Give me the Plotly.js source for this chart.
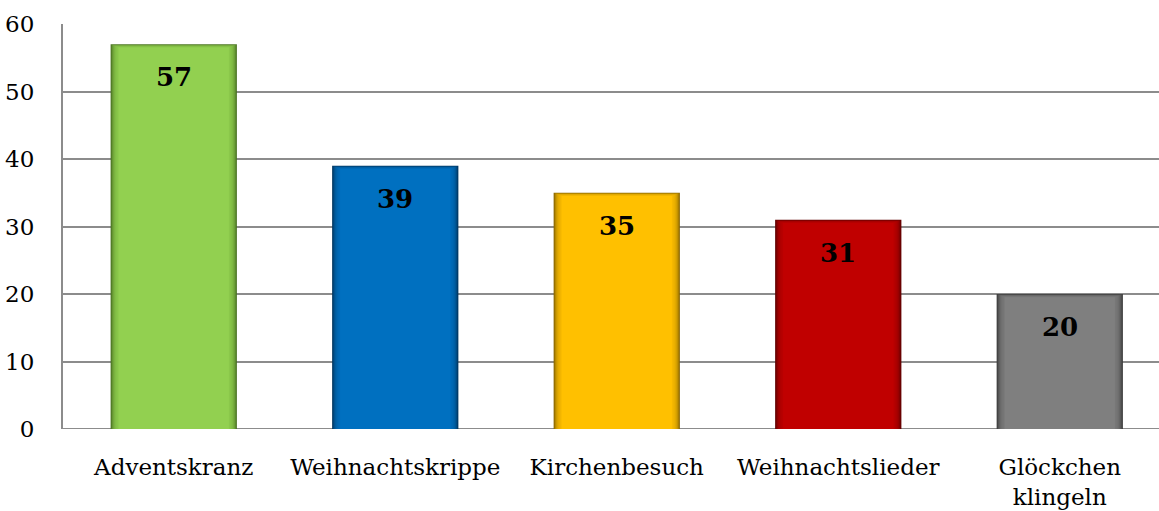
<!DOCTYPE html>
<html><head><meta charset="utf-8">
<script src="https://cdn.plot.ly/plotly-3.0.1.min.js"></script>
<style>html,body{margin:0;padding:0;background:#fff;}#chart{width:1159px;height:511px;}</style>
</head><body><div id="chart"></div>
<script>
const categories = ["Adventskranz", "Weihnachtskrippe", "Kirchenbesuch", "Weihnachtslieder", "Glöckchen<br>klingeln"];
const values = [57, 39, 35, 31, 20];
const colors = ["#92D050", "#0070C0", "#FFC000", "#C00000", "#7F7F7F"];
const edgeColors = ["#4A7322", "#003560", "#8A6700", "#600000", "#3C3C3C"];
const yTicks = [0, 10, 20, 30, 40, 50, 60];

const idx = categories.map((c, i) => i);
const font = "DejaVu Serif, Liberation Serif, serif";

// soft inner-shadow effect: base dark bar then progressively narrower translucent layers
const layers = [{w: 0.57, dy: 0, op: 1, base: true}];
for (let k = 1; k <= 8; k++) {
  layers.push({w: 0.57 - k * 0.009, dy: k * 0.06, op: k === 8 ? 1 : 0.3});
}
const traces = layers.map(L => ({
  type: "bar", x: idx, y: values.map(v => v - L.dy), width: L.w,
  marker: {color: L.base ? edgeColors : colors, opacity: L.op, line: {width: 0}},
  hoverinfo: "skip"
}));

const annotations = values.map((v, i) => ({
  x: i, y: v, xref: "x", yref: "y", text: "<b>" + v + "</b>", showarrow: false,
  yshift: -33, font: {family: font, size: 26, color: "#000"}
}));

const layout = {
  width: 1159, height: 511,
  margin: {l: 63, r: 0, t: 24, b: 82},
  paper_bgcolor: "#fff", plot_bgcolor: "#fff",
  barmode: "overlay", showlegend: false,
  xaxis: {range: [-0.5, 4.448], tickvals: idx, ticktext: categories,
          showgrid: false, zeroline: false, showline: false, ticks: "",
          ticklabelstandoff: 22,
          tickfont: {family: font, size: 23, color: "#000"}, fixedrange: true},
  yaxis: {range: [0, 60], tickvals: yTicks, showgrid: true, gridcolor: "#8C8C8C", gridwidth: 2,
          zeroline: false, showline: true, linecolor: "#8C8C8C", linewidth: 2, ticks: "",
          ticklabelstandoff: 22,
          tickfont: {family: font, size: 23, color: "#000"}, fixedrange: true},
  annotations: annotations
};
layout.shapes = [{type: "line", xref: "paper", yref: "y", x0: 0, x1: 1, y0: 0, y1: 0,
                  line: {color: "#8C8C8C", width: 2}, layer: "below"}];
Plotly.newPlot("chart", traces, layout, {displayModeBar: false, staticPlot: true});
</script></body></html>
